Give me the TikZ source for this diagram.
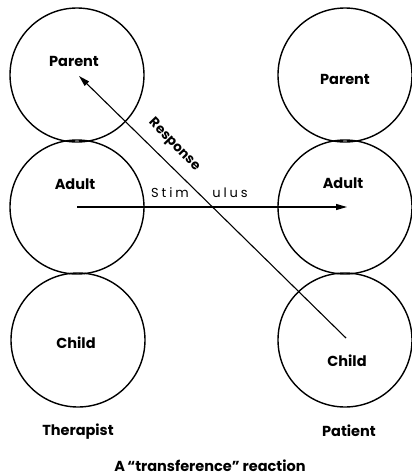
\documentclass[tikz,border=0pt]{standalone}
\usepackage{fontspec}
\setmainfont{Poppins}
\usetikzlibrary{arrows.meta}
\begin{document}
\begin{tikzpicture}[x=1pt,y=-1pt,
  ego/.style={circle,draw,line width=1.4pt,minimum size=134pt,inner sep=0pt},
  lbl/.style={font=\fontsize{14.5}{16}\selectfont\bfseries,inner sep=0pt},
  arr/.style={line width=1.1pt,-{Triangle[length=11pt,width=6pt]}}]
\useasboundingbox (0,0) rectangle (412,475);
% therapist
\node[ego] (tP) at (77,75) {};
\node[ego] (tA) at (77,207) {};
\node[ego] (tC) at (78,340) {};
% patient
\node[ego] (pP) at (345,75) {};
\node[ego] (pA) at (345,207) {};
\node[ego] (pC) at (345,340) {};
% labels
\node[lbl] (tPl) at (74,61) {Parent};
\node[lbl] (tAl) at (75,184) {Adult};
\node[lbl] (tCl) at (76,343) {Child};
\node[lbl] (pPl) at (345,79) {Parent};
\node[lbl] (pAl) at (343,183) {Adult};
\node[lbl] (pCl) at (347,361) {Child};
\node[lbl] (ther) at (78,432) {Therapist};
\node[lbl] (pat) at (349,431) {Patient};
\node[lbl,anchor=base,text depth=0pt] (cap) at (210,471) {A\,“transference” reaction};
% arrows
\coordinate (s0) at (77,207);
\coordinate (s1) at (347,207);
\coordinate (r0) at (346,338);
\coordinate (r1) at (79,76);
\draw[arr] (s0) -- (s1);
\draw[arr] (r0) -- (r1);
\node[font=\fontsize{13}{15}\selectfont\addfontfeature{LetterSpace=22},inner sep=0pt] (st1) at (170,193) {Stim};
\node[font=\fontsize{13}{15}\selectfont\addfontfeature{LetterSpace=22},inner sep=0pt] (st2) at (230,193) {ulus};
\node[lbl,font=\fontsize{13.5}{15}\selectfont\bfseries,rotate=-46] (resp) at (174,145) {Response};
\end{tikzpicture}
\end{document}
